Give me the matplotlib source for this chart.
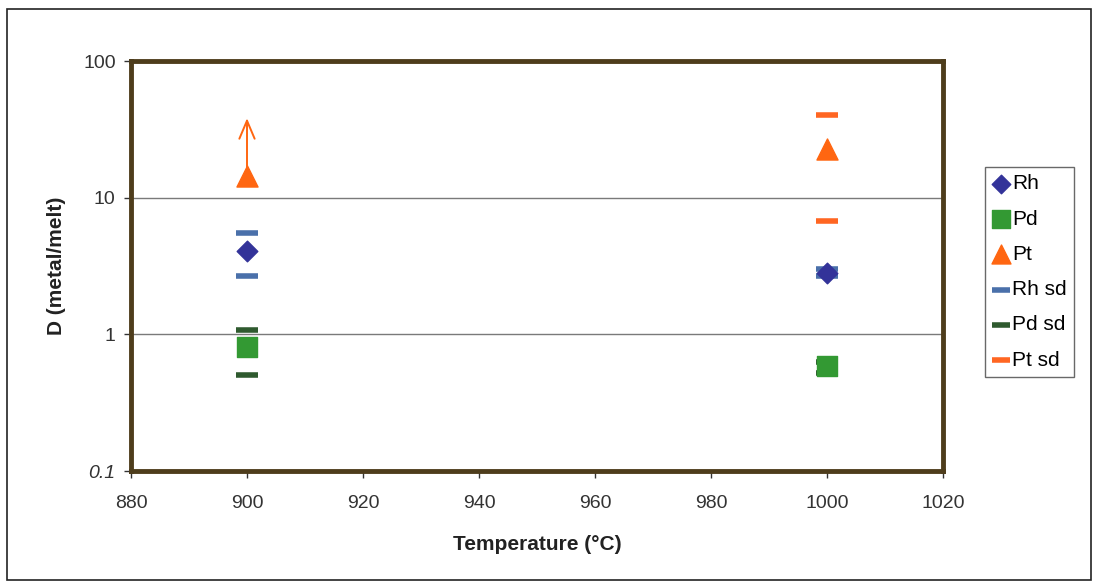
import matplotlib
matplotlib.use("Agg")
import matplotlib.pyplot as plt
from matplotlib.patches import Rectangle

plt.rcParams['font.family'] = ['Liberation Sans', 'DejaVu Sans']

# temperatures (°C)
temps = [900, 1000]

# partition coefficients D (metal/melt)
rh = [4.1, 2.8]
pd = [0.81, 0.59]
pt = [14.5, 22.7]

# standard deviation bounds (upper, lower)
rh_sd_hi = [5.5, 3.0]
rh_sd_lo = [2.65, 2.65]
pd_sd_hi = [1.08, 0.63]
pd_sd_lo = [0.50, 0.52]
pt_sd_hi = [None, 40.0]
pt_sd_lo = [None, 6.7]

# minimum value arrow at 900 °C
pt_arrow_top = 40.0

frame_col = '#4e3d1c'

fig = plt.figure(figsize=(10.94, 5.85), dpi=100)
fig.patch.set_facecolor('white')
fig.patches.append(Rectangle((7 / 1094, 5 / 585), 1084 / 1094, 571 / 585,
                             transform=fig.transFigure, fill=False,
                             edgecolor='#222222', linewidth=1.2))

ax = fig.add_axes([131 / 1094, 1 - 471 / 585, 812 / 1094, 410 / 585])
ax.set_yscale('log')
ax.set_xlim(880, 1020)
ax.set_ylim(0.1, 100)

for v in [1, 10]:
    ax.axhline(v, color='#7a7a7a', lw=1.0, zorder=1)

def sd_points(hi, lo):
    xs, ys = [], []
    for t, a, b in zip(temps, hi, lo):
        if a is not None:
            xs += [t, t]
            ys += [a, b]
    return xs, ys

ax.scatter(temps, rh, marker='D', s=110, color='#333399', label='Rh', zorder=4)
ax.scatter(temps, pd, marker='s', s=190, color='#339933', label='Pd', zorder=4)
ax.scatter(temps, pt, marker='^', s=230, color='#ff6611', label='Pt', zorder=4)

x, y = sd_points(rh_sd_hi, rh_sd_lo)
ax.scatter(x, y, marker='_', s=230, linewidths=4, color='#4a70aa', label='Rh sd', zorder=3)
x, y = sd_points(pd_sd_hi, pd_sd_lo)
ax.scatter(x, y, marker='_', s=230, linewidths=4, color='#2f5a2f', label='Pd sd', zorder=3)
x, y = sd_points(pt_sd_hi, pt_sd_lo)
ax.scatter(x, y, marker='_', s=230, linewidths=4, color='#ff6622', label='Pt sd', zorder=3)

ax.annotate('', xy=(temps[0], pt_arrow_top), xytext=(temps[0], pt[0]),
            arrowprops=dict(arrowstyle='->,head_length=1.3,head_width=0.55',
                            color='#ff6611', lw=1.4), zorder=3)

for s in ax.spines.values():
    s.set_color(frame_col)
    s.set_linewidth(3.5)

ax.set_xticks(range(880, 1021, 20))
ax.set_yticks([0.1, 1, 10, 100])
ax.set_yticklabels(['0.1', '1', '10', '100'])
ax.yaxis.get_ticklabels()[0].set_style('italic')
ax.minorticks_off()
ax.tick_params(axis='both', labelsize=14, color='#333333', length=5, width=1,
               labelcolor='#333333')
ax.tick_params(axis='x', pad=12)
ax.tick_params(axis='y', pad=6)
ax.set_xlabel('Temperature (°C)', fontsize=15, fontweight='bold', labelpad=17,
              color='#222222')
ax.set_ylabel('D (metal/melt)', fontsize=15, fontweight='bold', labelpad=12,
              color='#222222')

leg = ax.legend(loc='upper left', bbox_to_anchor=(985 / 1094, 1 - 167 / 585),
                bbox_transform=fig.transFigure, prop={'size': 15}, frameon=True,
                fancybox=False, edgecolor='#444444', handlelength=0.8,
                handletextpad=0.15, borderpad=0.35, labelspacing=0.78,
                markerscale=0.9, borderaxespad=0)
leg.get_frame().set_linewidth(1.0)

fig.savefig('out.png', dpi=100, facecolor='white')
